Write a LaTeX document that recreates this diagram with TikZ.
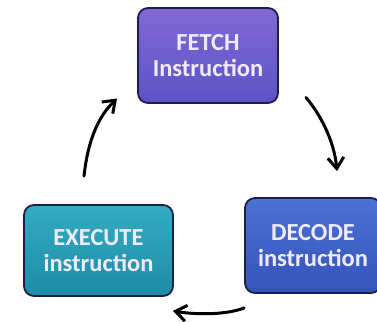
\documentclass[tikz,border=0pt]{standalone}
\usepackage{fontspec}
\setmainfont{Carlito}
\usetikzlibrary{arrows.meta,calc}
\definecolor{fetchtop}{RGB}{130,106,214}
\definecolor{fetchbot}{RGB}{92,82,198}
\definecolor{exectop}{RGB}{52,172,194}
\definecolor{execbot}{RGB}{30,140,166}
\definecolor{dectop}{RGB}{76,114,214}
\definecolor{decbot}{RGB}{52,84,186}
\definecolor{boxline}{RGB}{28,32,72}
\definecolor{boxtext}{RGB}{240,236,255}
\tikzset{
  stagebox/.style={draw=boxline, line width=1.8pt, rounded corners=10pt,
    inner sep=0pt, align=center, text=boxtext,
    font=\bfseries\fontsize{24.5}{26}\selectfont},
  cyclearrow/.style={draw=black, line width=3pt, line cap=round,
    -{Straight Barb[length=11pt,width=16pt,line width=3pt]}}
}
\begin{document}
\begin{tikzpicture}[x=1pt,y=-1pt]
\useasboundingbox[clip] (0,0) rectangle (377,321);
\fill[white] (0,0) rectangle (377,321);
\node[stagebox, top color=fetchtop, bottom color=fetchbot,
  minimum width=140pt, minimum height=95pt] (fetch) at (208,55.5)
  {FETCH\\Instruction};
\node[stagebox, top color=dectop, bottom color=decbot,
  minimum width=136pt, minimum height=95pt] (decode) at (313,245.5)
  {DECODE\\instruction};
\node[stagebox, top color=exectop, bottom color=execbot,
  minimum width=149pt, minimum height=91pt] (execute) at (98.5,250.5)
  {EXECUTE\\instruction};
\coordinate (a1s) at ($(execute.north)+(-14.5,-28)$);
\coordinate (a1e) at ($(fetch.west)+(-20,43)$);
\coordinate (a2s) at ($(fetch.east)+(27,42)$);
\coordinate (a2e) at ($(decode.north)+(24,-26)$);
\coordinate (a3s) at ($(decode.south west)+(0,14)$);
\coordinate (a3e) at ($(execute.south east)+(-1,14)$);
\draw[cyclearrow] (a1s) .. controls ($(a1s)+(4,-37)$) and ($(a1e)+(-18,17)$) .. (a1e);
\draw[cyclearrow] (a2s) .. controls ($(a2s)+(13,15)$) and ($(a2e)+(-3,-32)$) .. (a2e);
\draw[cyclearrow] (a3s) .. controls ($(a3s)+(-17,7)$) and ($(a3e)+(23,4)$) .. (a3e);
\end{tikzpicture}
\end{document}
